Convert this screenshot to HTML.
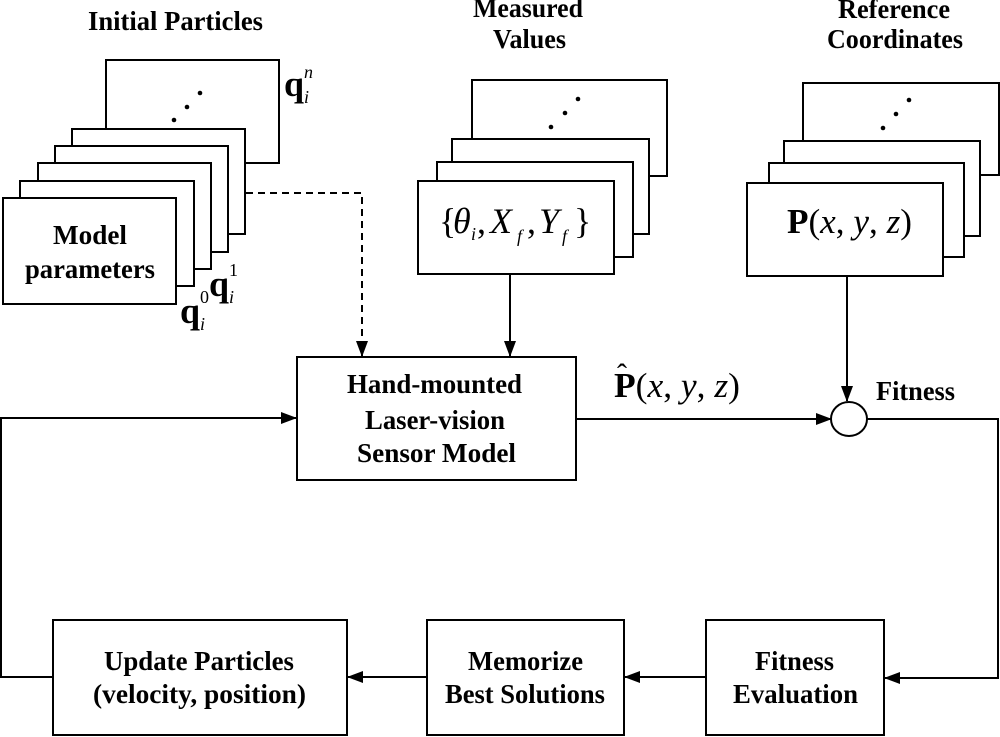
<!DOCTYPE html>
<html><head><meta charset="utf-8"><style>
html,body{margin:0;padding:0;background:#fff;}
svg{display:block;}
text{font-family:"Liberation Serif",serif;fill:#000;}
.b{font-weight:bold;font-size:27px;}
</style></head><body>
<svg width="1000" height="737" viewBox="0 0 1000 737">
<defs>
<marker id="ar" markerWidth="16" markerHeight="14" refX="15" refY="7" orient="auto" markerUnits="userSpaceOnUse"><path d="M0,1 L16,7 L0,13 Z" fill="#000"/></marker>
</defs>
<g fill="#fff" stroke="#000" stroke-width="2">
<rect x="106" y="60" width="173" height="103"/>
<rect x="72" y="129" width="173" height="105"/>
<rect x="55" y="146" width="173" height="106"/>
<rect x="38" y="163" width="173" height="106"/>
<rect x="20" y="181" width="174" height="105"/>
<rect x="3" y="198" width="173" height="106"/>
<rect x="472" y="80" width="195" height="96"/>
<rect x="452" y="139" width="197" height="95"/>
<rect x="437" y="162" width="196" height="95"/>
<rect x="418" y="181" width="196" height="93"/>
<rect x="803" y="83" width="196" height="92"/>
<rect x="784" y="141" width="196" height="95"/>
<rect x="769" y="163" width="195" height="94"/>
<rect x="747" y="183" width="196" height="93"/>
<rect x="297" y="357" width="279" height="123"/>
<rect x="53" y="620" width="294" height="115"/>
<rect x="427" y="620" width="197" height="115"/>
<rect x="706" y="620" width="178" height="115"/>
<ellipse cx="849" cy="419" rx="18" ry="17"/>
</g>
<g fill="#000">
<circle cx="174" cy="120" r="2.3"/><circle cx="187" cy="107" r="2.3"/><circle cx="200" cy="93" r="2.3"/>
<circle cx="551" cy="127" r="2.3"/><circle cx="565" cy="113" r="2.3"/><circle cx="578" cy="99" r="2.3"/>
<circle cx="883" cy="128" r="2.3"/><circle cx="896" cy="114" r="2.3"/><circle cx="909" cy="100" r="2.3"/>
</g>
<g stroke="#000" stroke-width="2" fill="none">
<path d="M246,193 H362 V356" stroke-dasharray="7,5" marker-end="url(#ar)"/>
<path d="M510,274 V356" marker-end="url(#ar)"/>
<path d="M847,276 V401" marker-end="url(#ar)"/>
<path d="M576,419 H831" marker-end="url(#ar)"/>
<path d="M867,419 H998 V678 H885" marker-end="url(#ar)"/>
<path d="M706,677 H625" marker-end="url(#ar)"/>
<path d="M427,677 H348" marker-end="url(#ar)"/>
<path d="M53,677 H1 V418 H296" marker-end="url(#ar)"/>
</g>
<text class="b" x="88" y="30" textLength="175" lengthAdjust="spacingAndGlyphs">Initial Particles</text>
<text class="b" x="473" y="17" textLength="110" lengthAdjust="spacingAndGlyphs">Measured</text>
<text class="b" x="493" y="48" textLength="73" lengthAdjust="spacingAndGlyphs">Values</text>
<text class="b" x="838" y="18" textLength="112" lengthAdjust="spacingAndGlyphs">Reference</text>
<text class="b" x="827" y="48" textLength="136" lengthAdjust="spacingAndGlyphs">Coordinates</text>
<text class="b" x="53" y="244" textLength="74" lengthAdjust="spacingAndGlyphs">Model</text>
<text class="b" x="25" y="278" textLength="130" lengthAdjust="spacingAndGlyphs">parameters</text>
<text class="b" x="347" y="393" textLength="175" lengthAdjust="spacingAndGlyphs">Hand-mounted</text>
<text class="b" x="365" y="429" textLength="140" lengthAdjust="spacingAndGlyphs">Laser-vision</text>
<text class="b" x="357" y="462" textLength="159" lengthAdjust="spacingAndGlyphs">Sensor Model</text>
<text class="b" x="876" y="400" textLength="79" lengthAdjust="spacingAndGlyphs">Fitness</text>
<text class="b" x="104" y="670" textLength="190" lengthAdjust="spacingAndGlyphs">Update Particles</text>
<text class="b" x="93" y="703" textLength="213" lengthAdjust="spacingAndGlyphs">(velocity, position)</text>
<text class="b" x="468" y="670" textLength="115" lengthAdjust="spacingAndGlyphs">Memorize</text>
<text class="b" x="445" y="703" textLength="160" lengthAdjust="spacingAndGlyphs">Best Solutions</text>
<text class="b" x="755" y="670" textLength="79" lengthAdjust="spacingAndGlyphs">Fitness</text>
<text class="b" x="733" y="703" textLength="125" lengthAdjust="spacingAndGlyphs">Evaluation</text>
<!-- math -->
<text x="439" y="233" font-size="36">{</text>
<text x="453" y="233" font-size="36" font-style="italic">θ</text>
<text x="471" y="240" font-size="18" font-style="italic">i</text>
<text x="477" y="233" font-size="36">,</text>
<text x="490" y="233" font-size="36" font-style="italic">X</text>
<text x="517" y="242" font-size="18" font-style="italic">f</text>
<text x="527" y="233" font-size="36">,</text>
<text x="539" y="233" font-size="36" font-style="italic">Y</text>
<text x="562" y="242" font-size="18" font-style="italic">f</text>
<text x="574" y="233" font-size="36">}</text>
<text x="787" y="233" font-size="35" textLength="125" lengthAdjust="spacingAndGlyphs"><tspan font-weight="bold">P</tspan>(<tspan font-style="italic">x</tspan>, <tspan font-style="italic">y</tspan>, <tspan font-style="italic">z</tspan>)</text>
<text x="614" y="397" font-size="35" textLength="126" lengthAdjust="spacingAndGlyphs"><tspan font-weight="bold">P</tspan>(<tspan font-style="italic">x</tspan>, <tspan font-style="italic">y</tspan>, <tspan font-style="italic">z</tspan>)</text>
<text x="617" y="384" font-size="30">ˆ</text>
<!-- q labels -->
<text x="284" y="96" font-size="36" font-weight="bold">q</text>
<text x="304" y="103" font-size="18" font-style="italic">i</text>
<text x="304" y="78" font-size="18" font-style="italic">n</text>
<text x="209" y="296" font-size="36" font-weight="bold">q</text>
<text x="229" y="303" font-size="18" font-style="italic">i</text>
<text x="229" y="276" font-size="18">1</text>
<text x="180" y="323" font-size="36" font-weight="bold">q</text>
<text x="200" y="330" font-size="18" font-style="italic">i</text>
<text x="200" y="303" font-size="18">0</text>
</svg>
</body></html>
